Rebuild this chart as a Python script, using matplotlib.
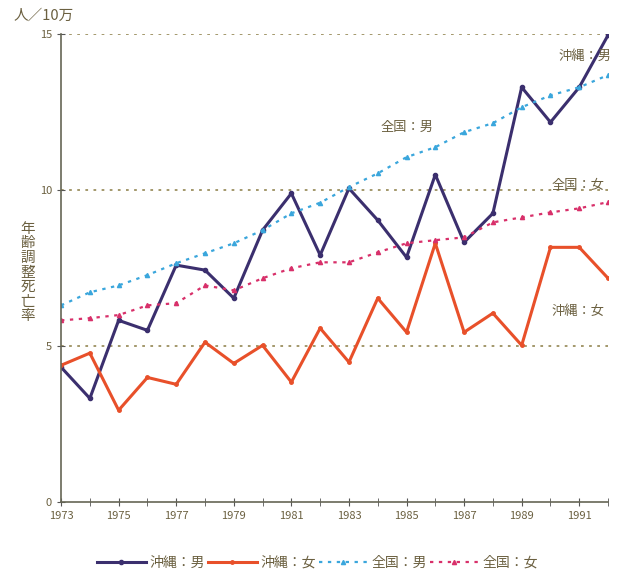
import matplotlib.pyplot as plt

plt.rcParams['font.family'] = ['Noto Sans CJK JP', 'DejaVu Sans']

years = list(range(1973, 1993))
okinawa_m = [4.33, 3.33, 5.83, 5.51, 7.6, 7.44, 6.54, 8.72, 9.9, 7.92,
             10.06, 9.04, 7.85, 10.5, 8.33, 9.26, 13.3, 12.18, 13.3, 14.97]
okinawa_f = [4.39, 4.78, 2.95, 4.0, 3.78, 5.13, 4.45, 5.03, 3.85, 5.58,
             4.49, 6.54, 5.45, 8.3, 5.45, 6.06, 5.03, 8.17, 8.17, 7.18]
zenkoku_m = [6.31, 6.73, 6.95, 7.28, 7.66, 7.98, 8.3, 8.72, 9.26, 9.6,
             10.1, 10.54, 11.06, 11.38, 11.86, 12.15, 12.66, 13.04, 13.3, 13.69]
zenkoku_f = [5.83, 5.9, 6.0, 6.31, 6.38, 6.95, 6.79, 7.18, 7.5, 7.69,
             7.69, 8.01, 8.3, 8.4, 8.49, 8.97, 9.13, 9.29, 9.42, 9.62]
labels = ['沖縄：男', '沖縄：女', '全国：男', '全国：女']

txt = '#6b6040'

fig = plt.figure(figsize=(6.23, 5.80), dpi=100)
ax = fig.add_axes([0.098, 0.134, 0.878, 0.807])

ax.plot(years, okinawa_m, color='#3b2f6e', lw=2.2, marker='o', ms=3, label=labels[0])
ax.plot(years, okinawa_f, color='#e8502a', lw=2.2, marker='o', ms=2.5, label=labels[1])
ax.plot(years, zenkoku_m, color='#3aa6dc', lw=1.6, ls=(0, (1.5, 2.5)), marker='^', ms=3, label=labels[2])
ax.plot(years, zenkoku_f, color='#d8306a', lw=1.6, ls=(0, (1.5, 2.5)), marker='^', ms=3, label=labels[3])

for v in [5, 10, 15]:
    ax.axhline(v, color='#9c9060', lw=1.3, ls=(0, (1.5, 3)), zorder=0)

ax.set_xlim(1973, 1992)
ax.set_ylim(0, 15)
ax.set_xticks(years, minor=True)
ax.set_xticks(range(1973, 1993, 2))
ax.set_yticks([0, 5, 10, 15])
ax.tick_params(axis='x', which='both', direction='inout', length=6, color='#555555', labelsize=8, labelcolor=txt)
ax.tick_params(axis='y', direction='inout', length=6, color='#555555', labelsize=8, labelcolor=txt)
for s in ['top', 'right']:
    ax.spines[s].set_visible(False)
for s in ['left', 'bottom']:
    ax.spines[s].set_color('#666655')
    ax.spines[s].set_linewidth(1.2)

ax.text(1991.2, 14.3, labels[0], color=txt, fontsize=9.5, ha='center', va='center')
ax.text(1985.0, 12.0, labels[2], color=txt, fontsize=9.5, ha='center', va='center')
ax.text(1990.95, 10.15, labels[3], color=txt, fontsize=9.5, ha='center', va='center')
ax.text(1990.95, 6.1, labels[1], color=txt, fontsize=9.5, ha='center', va='center')

fig.text(0.022, 0.972, '人／10万', color=txt, fontsize=10.5, ha='left', va='center')
fig.text(0.045, 0.53, '\n'.join('年齢調整死亡率'), color=txt, fontsize=10.5,
         ha='center', va='center', linespacing=1.05)

fig.legend(loc='center', bbox_to_anchor=(0.51, 0.03), ncol=4, frameon=False,
           fontsize=10, handlelength=3.5, handletextpad=0.3, columnspacing=0.2,
           labelcolor=txt)

fig.savefig('out.png', dpi=100)
